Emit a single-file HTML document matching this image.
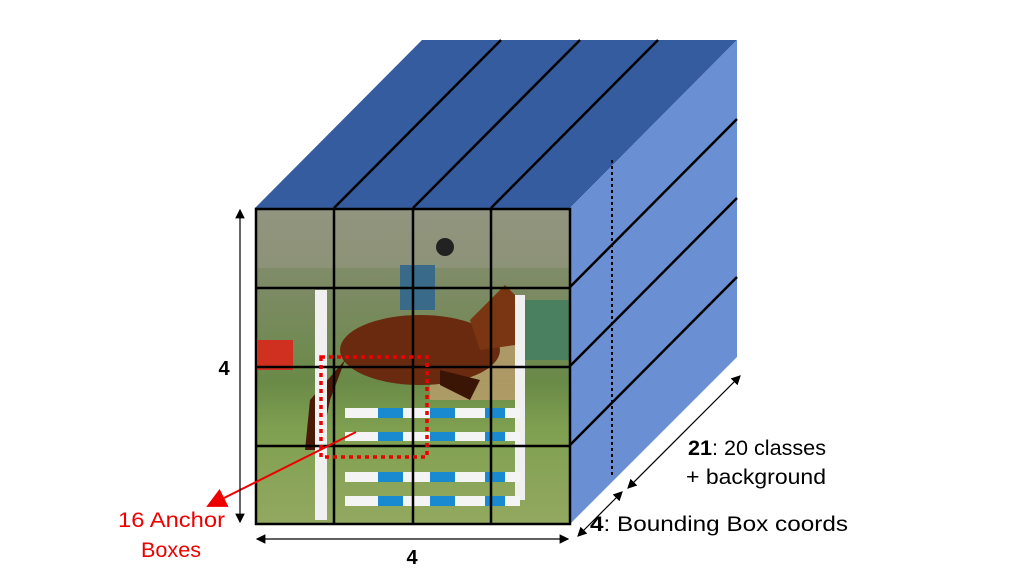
<!DOCTYPE html>
<html><head><meta charset="utf-8"><style>
html,body{margin:0;padding:0;background:#fff;width:1024px;height:576px;overflow:hidden}
text{font-family:"Liberation Sans",sans-serif}
</style></head><body>
<svg width="1024" height="576" viewBox="0 0 1024 576">
<defs>
<linearGradient id="photo" x1="0" y1="0" x2="0" y2="1">
<stop offset="0" stop-color="#8a8f78"/><stop offset="0.3" stop-color="#7a8a60"/>
<stop offset="0.55" stop-color="#6a8a48"/><stop offset="0.7" stop-color="#7fa050"/><stop offset="1" stop-color="#93a860"/>
</linearGradient>
<marker id="ah" markerWidth="8" markerHeight="8" refX="7" refY="4" orient="auto"><path d="M0,0 L8,4 L0,8 z" fill="#000"/></marker>
<marker id="ahs" markerWidth="8" markerHeight="8" refX="1" refY="4" orient="auto"><path d="M8,0 L0,4 L8,8 z" fill="#000"/></marker>
<marker id="ahr" markerWidth="10" markerHeight="10" refX="9" refY="5" orient="auto"><path d="M0,0 L10,5 L0,10 z" fill="#e00"/></marker>
</defs>
<polygon points="255,208 422,40 737,40 570,208" fill="#355c9e"/>
<polygon points="570,208 737,40 737,357 570,524" fill="#6a8fd3"/>
<g stroke="#000" stroke-width="2.5">
<line x1="334" y1="208" x2="501" y2="40"/><line x1="413" y1="208" x2="580" y2="40"/><line x1="491" y1="208" x2="658" y2="40"/>
<line x1="570" y1="287" x2="737" y2="119"/><line x1="570" y1="366" x2="737" y2="198"/><line x1="570" y1="445" x2="737" y2="277"/>
</g>
<line x1="612" y1="160" x2="612" y2="476" stroke="#000" stroke-width="2" stroke-dasharray="3,3"/>
<g>
<rect x="255" y="208" width="315" height="316" fill="url(#photo)"/>
<rect x="255" y="208" width="315" height="60" fill="#9a9a85" opacity="0.5"/>
<rect x="520" y="300" width="50" height="60" fill="#4a8060"/>
<rect x="258" y="340" width="35" height="30" fill="#d03020"/>
<rect x="430" y="330" width="90" height="70" fill="#c8a070" opacity="0.7"/>
<ellipse cx="420" cy="350" rx="80" ry="35" fill="#6a2a10"/>
<polygon points="470,320 505,285 520,300 515,345 480,350" fill="#7a3512"/>
<polygon points="345,360 310,400 305,450 320,450 330,400" fill="#4a1a08"/>
<polygon points="440,370 480,380 470,400 440,385" fill="#3a1505"/>
<rect x="400" y="265" width="35" height="45" fill="#3a6a8a"/>
<circle cx="445" cy="247" r="9" fill="#222"/>
<rect x="315" y="290" width="12" height="230" fill="#f0f0f0"/>
<rect x="515" y="295" width="10" height="205" fill="#f0f0f0"/>
<g fill="#f4f4f4"><rect x="345" y="408" width="175" height="10"/><rect x="345" y="432" width="175" height="9"/><rect x="345" y="472" width="175" height="10"/><rect x="345" y="496" width="175" height="10"/></g>
<g fill="#1a8ad0"><rect x="378" y="408" width="25" height="10"/><rect x="430" y="408" width="25" height="10"/><rect x="485" y="408" width="20" height="10"/><rect x="378" y="432" width="25" height="9"/><rect x="430" y="432" width="25" height="9"/><rect x="485" y="432" width="20" height="9"/><rect x="378" y="472" width="25" height="10"/><rect x="430" y="472" width="25" height="10"/><rect x="485" y="472" width="20" height="10"/><rect x="378" y="496" width="25" height="10"/><rect x="430" y="496" width="25" height="10"/><rect x="485" y="496" width="20" height="10"/></g>
</g>
<g stroke="#000" stroke-width="2.5" fill="none">
<rect x="256" y="209" width="314" height="315"/>
<line x1="334" y1="209" x2="334" y2="524"/><line x1="413" y1="209" x2="413" y2="524"/><line x1="491" y1="209" x2="491" y2="524"/>
<line x1="256" y1="288" x2="570" y2="288"/><line x1="256" y1="367" x2="570" y2="367"/><line x1="256" y1="446" x2="570" y2="446"/>
</g>
<rect x="321" y="357" width="106" height="100" fill="none" stroke="#e00" stroke-width="3.5" stroke-dasharray="4,4"/>
<line x1="356" y1="432" x2="208" y2="506" stroke="#e00" stroke-width="2" marker-end="url(#ahr)"/>
<text x="118" y="527" font-size="21" fill="#e00" textLength="107" lengthAdjust="spacingAndGlyphs">16 Anchor</text>
<text x="141" y="557" font-size="21" fill="#e00" textLength="60" lengthAdjust="spacingAndGlyphs">Boxes</text>
<g stroke="#000" stroke-width="1.2">
<line x1="240" y1="210" x2="240" y2="522" marker-end="url(#ah)" marker-start="url(#ahs)"/>
<line x1="257" y1="539" x2="568" y2="539" marker-end="url(#ah)" marker-start="url(#ahs)"/>
<line x1="578" y1="536" x2="622" y2="492" marker-end="url(#ah)" marker-start="url(#ahs)"/>
<line x1="628" y1="488" x2="740" y2="376" marker-end="url(#ah)" marker-start="url(#ahs)"/>
</g>
<text x="224" y="375" font-size="20" font-weight="bold" text-anchor="middle">4</text>
<text x="412" y="564" font-size="20" font-weight="bold" text-anchor="middle">4</text>
<text x="688" y="455" font-size="21" textLength="138" lengthAdjust="spacingAndGlyphs"><tspan font-weight="bold">21</tspan>: 20 classes</text>
<text x="686" y="484" font-size="21" textLength="140" lengthAdjust="spacingAndGlyphs">+ background</text>
<text x="590" y="531" font-size="21" textLength="258" lengthAdjust="spacingAndGlyphs"><tspan font-weight="bold">4</tspan>: Bounding Box coords</text>
</svg>
</body></html>
